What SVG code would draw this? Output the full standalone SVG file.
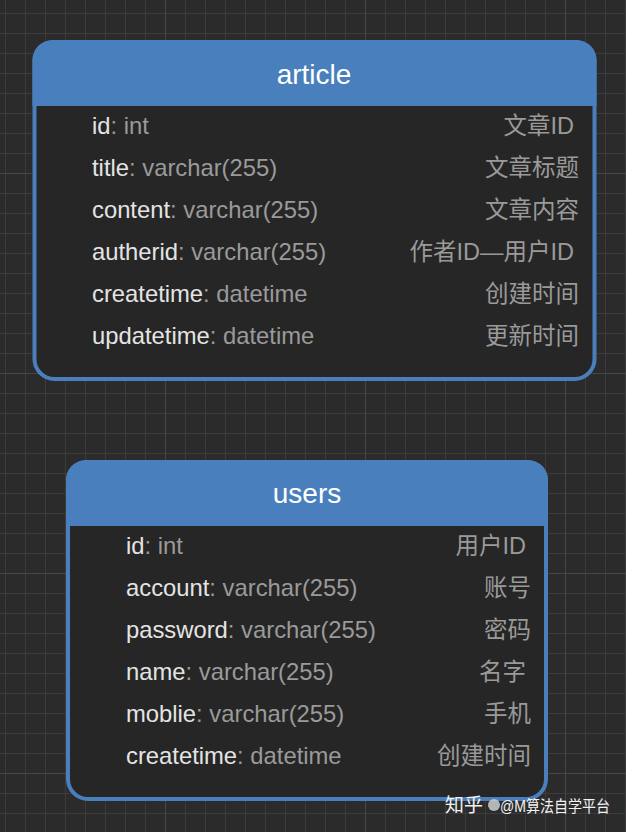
<svg xmlns="http://www.w3.org/2000/svg" width="626" height="832" viewBox="0 0 626 832">
<style>
.bg{fill:#2b2b2b}
.box{fill:#262626;stroke:#4a7fbd;stroke-width:4}
.hdr{fill:#4a7fbd}
.title{font-family:"Liberation Sans",Arial,sans-serif;font-size:28px;fill:#ffffff;text-anchor:middle}
.f{font-family:"Liberation Sans",Arial,sans-serif;font-size:23.8px}
.n{fill:#e4e4e4}
.t{fill:#9a9a9a}
.lbl{font-family:"Liberation Sans","Noto Sans CJK SC",sans-serif;font-size:23.5px;fill:#9a9a9a;text-anchor:end}
.wm{font-family:"Liberation Sans","Noto Sans CJK SC",sans-serif;font-size:19px;fill:#f2f2f2}
.wm2{font-family:"Liberation Sans","Noto Sans CJK SC",sans-serif;font-size:16px;fill:#f2f2f2}
</style>
<defs>
<pattern id="grid" x="5" y="13" width="20" height="20" patternUnits="userSpaceOnUse">
<path d="M0 0H20M0 0V20" stroke="#3c3c3c" stroke-width="2" fill="none"/>
</pattern>
<pattern id="major" x="165" y="173" width="200" height="200" patternUnits="userSpaceOnUse">
<path d="M0 0H200M0 0V200" stroke="#474747" stroke-width="2" fill="none"/>
</pattern>
</defs>
<rect class="bg" x="0" y="0" width="626" height="832"/>
<rect x="0" y="0" width="626" height="832" fill="url(#grid)"/>
<rect x="0" y="0" width="626" height="832" fill="url(#major)"/>

<g id="article">
<rect class="box" x="34.5" y="42" width="560" height="337" rx="20"/>
<path class="hdr" d="M32.5 106V62A20 20 0 0 1 52.5 40H576.5A20 20 0 0 1 596.5 62V106Z"/>
<text class="title" x="314" y="84">article</text>
<text class="f" x="92" y="134"><tspan class="n">id</tspan><tspan class="t">: int</tspan></text>
<text class="f" x="92" y="176"><tspan class="n">title</tspan><tspan class="t">: varchar(255)</tspan></text>
<text class="f" x="92" y="218"><tspan class="n">content</tspan><tspan class="t">: varchar(255)</tspan></text>
<text class="f" x="92" y="260"><tspan class="n">autherid</tspan><tspan class="t">: varchar(255)</tspan></text>
<text class="f" x="92" y="302"><tspan class="n">createtime</tspan><tspan class="t">: datetime</tspan></text>
<text class="f" x="92" y="344"><tspan class="n">updatetime</tspan><tspan class="t">: datetime</tspan></text>
<text class="lbl" x="574" y="134">文章ID</text>
<text class="lbl" x="579" y="176">文章标题</text>
<text class="lbl" x="579" y="218">文章内容</text>
<text class="lbl" x="574" y="260">作者ID—用户ID</text>
<text class="lbl" x="579" y="302">创建时间</text>
<text class="lbl" x="579" y="344">更新时间</text>
</g>

<g id="users">
<rect class="box" x="68" y="462" width="478" height="337" rx="20"/>
<path class="hdr" d="M66 526V482A20 20 0 0 1 86 460H528A20 20 0 0 1 548 482V526Z"/>
<text class="title" x="307" y="503">users</text>
<text class="f" x="126" y="554"><tspan class="n">id</tspan><tspan class="t">: int</tspan></text>
<text class="f" x="126" y="596"><tspan class="n">account</tspan><tspan class="t">: varchar(255)</tspan></text>
<text class="f" x="126" y="638"><tspan class="n">password</tspan><tspan class="t">: varchar(255)</tspan></text>
<text class="f" x="126" y="680"><tspan class="n">name</tspan><tspan class="t">: varchar(255)</tspan></text>
<text class="f" x="126" y="722"><tspan class="n">moblie</tspan><tspan class="t">: varchar(255)</tspan></text>
<text class="f" x="126" y="764"><tspan class="n">createtime</tspan><tspan class="t">: datetime</tspan></text>
<text class="lbl" x="526" y="554">用户ID</text>
<text class="lbl" x="531" y="596">账号</text>
<text class="lbl" x="531" y="638">密码</text>
<text class="lbl" x="526" y="680">名字</text>
<text class="lbl" x="531" y="722">手机</text>
<text class="lbl" x="531" y="764">创建时间</text>
</g>

<g id="connectors"></g>

<g id="watermark">
<text class="wm" x="445" y="812">知乎</text>
<circle cx="494" cy="805" r="6" fill="#d8d8d8" opacity="0.8"/>
<text class="wm2" x="500" y="812" textLength="110" lengthAdjust="spacingAndGlyphs">@M算法自学平台</text>
</g>
</svg>
